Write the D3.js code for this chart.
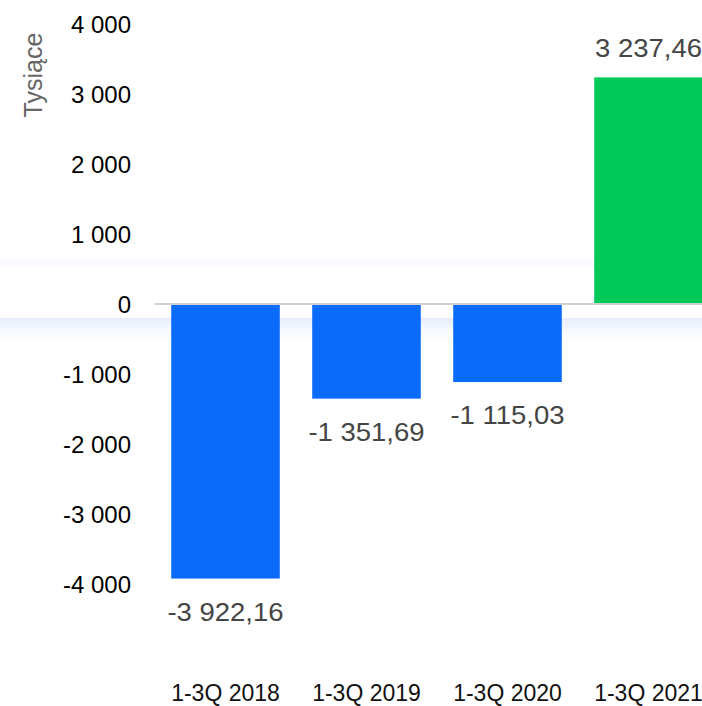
<!DOCTYPE html>
<html>
<head>
<meta charset="utf-8">
<script src="https://cdn.jsdelivr.net/npm/d3@7"></script>
<style>
  html, body { margin: 0; padding: 0; background: #fff; }
  svg { display: block; font-family: "Liberation Sans", Arial, Helvetica, sans-serif; }
</style>
</head>
<body>
<svg id="chart" width="702" height="706"></svg>
<script>
// data
var categories = ["1-3Q 2018", "1-3Q 2019", "1-3Q 2020", "1-3Q 2021"];
var values = [-3922.16, -1351.69, -1115.03, 3237.46];
var yTicks = [-4000, -3000, -2000, -1000, 0, 1000, 2000, 3000, 4000];
var yTitle = "Tysiące";

var pl = d3.formatLocale({decimal: ",", thousands: "\u00a0", grouping: [3], currency: ["", ""], minus: "-"});
var fmtTick = pl.format(",d");
var fmtVal = pl.format(",.2f");

var svg = d3.select("#chart");
var w = 702, h = 706;

var x = d3.scaleBand().domain(categories).range([155, 719]).paddingInner(0.23).paddingOuter(0.115);
var y = d3.scaleLinear().domain([-4000, 4000]).range([584, 24]);

// soft white strip with bluish shadow round the zero line
var defs = svg.append("defs");
var f = defs.append("filter").attr("id", "shadow").attr("x", "-10%").attr("y", "-100%").attr("width", "120%").attr("height", "300%");
f.append("feDropShadow").attr("dx", 0).attr("dy", 6).attr("stdDeviation", 9)
  .attr("flood-color", "#2a66f0").attr("flood-opacity", 0.16);

svg.append("rect")
  .attr("x", -20).attr("width", w + 40)
  .attr("y", y(0) - 37).attr("height", 51)
  .attr("fill", "#fff")
  .attr("filter", "url(#shadow)");

// y axis labels
var yAxis = d3.axisLeft(y).tickValues(yTicks).tickFormat(fmtTick).tickSize(0).tickPadding(0);
var gy = svg.append("g").attr("transform", "translate(131,1)").call(yAxis);
gy.select(".domain").remove();
gy.selectAll("text").attr("fill", "#000").style("font-size", "24px").style("font-family", "inherit");

svg.append("text")
  .attr("transform", "translate(42,75) rotate(-90)")
  .attr("text-anchor", "middle")
  .attr("fill", "#666")
  .style("font-size", "25px")
  .text(yTitle);

// bars
var data = categories.map(function(c, i) { return {cat: c, v: values[i]}; });
svg.append("g").selectAll("rect").data(data).enter().append("rect")
  .attr("x", function(d) { return x(d.cat); })
  .attr("width", x.bandwidth())
  .attr("y", function(d) { return d.v >= 0 ? y(d.v) : y(0); })
  .attr("height", function(d) { return Math.abs(y(d.v) - y(0)); })
  .attr("fill", function(d) { return d.v >= 0 ? "#00c95a" : "#0a6bfb"; });

// zero line
svg.append("line")
  .attr("x1", x.range()[0]).attr("x2", x.range()[1])
  .attr("y1", y(0)).attr("y2", y(0))
  .attr("stroke", "#d2d2d2").attr("stroke-width", 2);

// value labels
var vl = svg.append("g").selectAll("text").data(data).enter().append("text")
  .attr("x", function(d) { return x(d.cat) + x.bandwidth() / 2; })
  .attr("y", function(d) { return d.v >= 0 ? y(d.v) - 20 : y(d.v) + 42; })
  .attr("text-anchor", "middle")
  .attr("fill", "#454545")
  .style("font-size", "25px")
  .text(function(d) { return fmtVal(d.v); });
vl.each(function() {
  var len = this.getComputedTextLength();
  d3.select(this).attr("textLength", len * 1.1).attr("lengthAdjust", "spacingAndGlyphs");
});

// category labels
svg.append("g").selectAll("text").data(categories).enter().append("text")
  .attr("x", function(d) { return x(d) + x.bandwidth() / 2; })
  .attr("y", 701)
  .attr("text-anchor", "middle")
  .attr("fill", "#111")
  .style("font-size", "23px")
  .text(function(d) { return d; });
</script>
</body>
</html>
